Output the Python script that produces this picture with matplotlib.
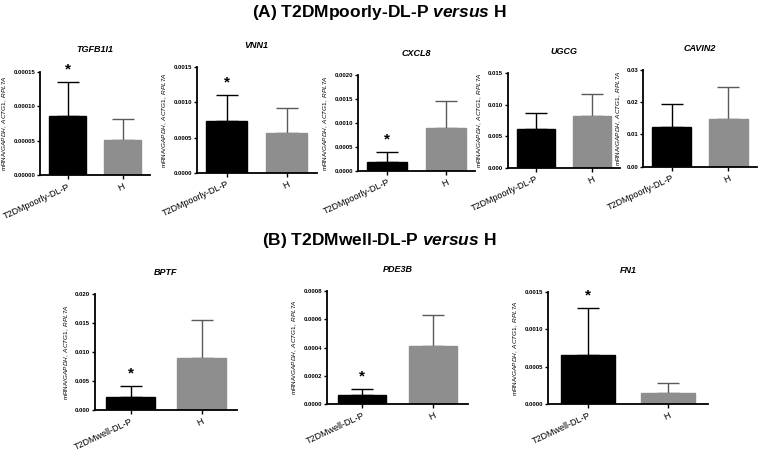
import matplotlib
matplotlib.use("Agg")
import matplotlib.pyplot as plt
from matplotlib.ticker import FormatStrFormatter, MultipleLocator

plt.rcParams["font.family"] = ["Liberation Sans", "DejaVu Sans"]
plt.rcParams["mathtext.fontset"] = "custom"
plt.rcParams["mathtext.it"] = "Liberation Sans:italic"
plt.rcParams["mathtext.rm"] = "Liberation Sans"
plt.rcParams["mathtext.bf"] = "Liberation Sans:bold"
plt.rcParams["mathtext.bfit"] = "Liberation Sans:italic:bold"

# (A) T2DMpoorly-DL-P versus H
genes_a = ["TGFB1I1", "VNN1", "CXCL8", "UGCG", "CAVIN2"]
poorly_mean = [0.000086, 0.00073, 0.00018, 0.0061, 0.0124]
poorly_err = [0.000049, 0.00037, 0.00021, 0.0026, 0.0070]
h_a_mean = [0.000051, 0.00057, 0.00090, 0.0082, 0.0147]
h_a_err = [0.000030, 0.00035, 0.00056, 0.0035, 0.0100]
star_a = [True, True, True, False, False]
ymax_a = [0.00015, 0.0015, 0.0020, 0.015, 0.03]
ystep_a = [0.00005, 0.0005, 0.0005, 0.005, 0.01]
yfmt_a = ["%.5f", "%.4f", "%.4f", "%.3f", "%.2f"]

# (B) T2DMwell-DL-P versus H
genes_b = ["BPTF", "PDE3B", "FN1"]
well_mean = [0.0023, 0.000064, 0.00065]
well_err = [0.0018, 0.000044, 0.00063]
h_b_mean = [0.0090, 0.00041, 0.00015]
h_b_err = [0.0065, 0.00022, 0.00013]
star_b = [True, True, True]
ymax_b = [0.020, 0.0008, 0.0015]
ystep_b = [0.005, 0.0002, 0.0005]
yfmt_b = ["%.3f", "%.4f", "%.4f"]

W, H = 758, 455
fig = plt.figure(figsize=(W / 100, H / 100), dpi=100)


def rect(l, r, t, b):
    return [l / W, 1 - b / H, (r - l) / W, (b - t) / H]


rects_a = [rect(40, 150, 71.7, 175), rect(196.7, 316.7, 67.3, 172.7),
           rect(358, 475, 75, 170.7), rect(508, 620, 73.3, 167.7),
           rect(643.3, 756.7, 70, 166.7)]
rects_b = [rect(95, 237, 294, 410), rect(327, 468, 291, 404),
           rect(548, 708, 292, 404)]

YLABEL = r"mRNA/$\mathit{GAPDH,\ ACTG1,\ RPL7A}$"
NARROW = ["Liberation Sans Narrow", "Liberation Sans", "DejaVu Sans"]


def panel(r, gene, group, m1, e1, m2, e2, star, ymax, ystep, fmt):
    ax = fig.add_axes(r)
    x = [0, 1]
    ax.bar(x, [m1, m2], width=0.68, color=["black", "#8e8e8e"],
           edgecolor=["black", "#8e8e8e"], zorder=2)
    ax.errorbar([0], [m1], yerr=[[0], [e1]], fmt="none", ecolor="black",
                elinewidth=1.0, capsize=8, capthick=1.0, zorder=1)
    ax.errorbar([1], [m2], yerr=[[0], [e2]], fmt="none", ecolor="#5a5a5a",
                elinewidth=1.0, capsize=8, capthick=1.0, zorder=1)
    if star:
        ax.annotate("*", (0, m1 + e1), xytext=(0, 4), textcoords="offset points",
                    ha="center", va="bottom", fontsize=11, fontweight="bold")
    ax.set_xlim(-0.5, 1.5)
    ax.set_ylim(0, ymax)
    ax.yaxis.set_major_locator(MultipleLocator(ystep))
    ax.yaxis.set_major_formatter(FormatStrFormatter(fmt))
    ax.set_xticks(x)
    ax.set_xticklabels([group, "H"], rotation=25, ha="right",
                       rotation_mode="anchor", fontsize=6.5)
    for lab in ax.get_yticklabels():
        lab.set_family(NARROW)
        lab.set_fontweight("bold")
    ax.tick_params(axis="y", labelsize=4.3, length=2.5, width=1, pad=1)
    ax.tick_params(axis="x", length=3, width=1, pad=2)
    for s in ["top", "right"]:
        ax.spines[s].set_visible(False)
    for s in ["left", "bottom"]:
        ax.spines[s].set_linewidth(1.3)
    ax.set_ylabel(YLABEL, fontsize=4.6, labelpad=3)
    ax.set_title(gene, fontsize=6.5, fontweight="bold", style="italic", pad=14)
    return ax


for i, g in enumerate(genes_a):
    panel(rects_a[i], g, "T2DMpoorly-DL-P", poorly_mean[i], poorly_err[i],
          h_a_mean[i], h_a_err[i], star_a[i], ymax_a[i], ystep_a[i], yfmt_a[i])

for i, g in enumerate(genes_b):
    panel(rects_b[i], g, "T2DMwell-DL-P", well_mean[i], well_err[i],
          h_b_mean[i], h_b_err[i], star_b[i], ymax_b[i], ystep_b[i], yfmt_b[i])

fig.text(0.5, 1 - 13 / H, r"(A) T2DMpoorly-DL-P $\mathbfit{versus}$ H",
         ha="center", va="center", fontsize=12.5, fontweight="bold")
fig.text(0.5, 1 - 241 / H, r"(B) T2DMwell-DL-P $\mathbfit{versus}$ H",
         ha="center", va="center", fontsize=12.5, fontweight="bold")

fig.savefig("out.png", dpi=100)
